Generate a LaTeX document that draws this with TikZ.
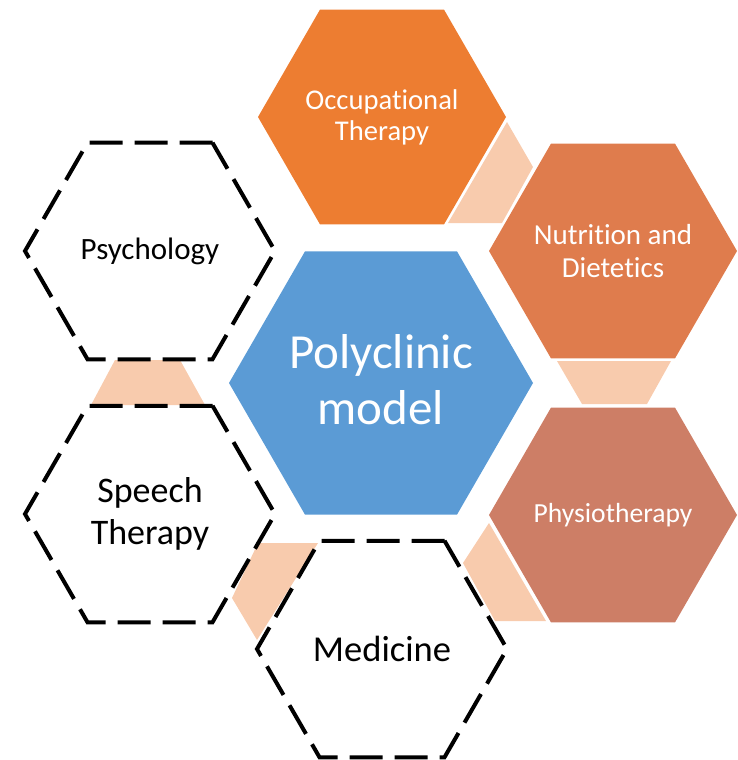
\documentclass[tikz,border=0pt]{standalone}
\usepackage{fontspec}
\setmainfont{Carlito}[Ligatures=NoCommon]
\usetikzlibrary{shapes.geometric, calc, backgrounds}
\definecolor{centreblue}{HTML}{5B9BD5}
\definecolor{otorange}{HTML}{ED7D31}
\definecolor{nutorange}{HTML}{DF7C4D}
\definecolor{phyorange}{HTML}{CD7E66}
\definecolor{peach}{HTML}{F8CBAD}
\tikzset {
    x=1pt, y=-1pt,
    hexa/.style={regular polygon, regular polygon sides=6, inner sep=0pt, outer sep=0pt},
    solidhex/.style={hexa, draw=none, minimum size=248pt},
    dashhex/.style={hexa, draw=black, line width=4pt, dash pattern=on 33pt off 12pt, minimum size=250pt},
    hextext/.style={inner sep=0pt, align=center},
    link/.style={fill=peach, draw=none}
}
\begin{document}
\begin{tikzpicture}
    \useasboundingbox (0,0) rectangle (738,760);
    \node[hexa, fill=centreblue, minimum size=304pt] (poly) at (381,383) {};
    \node[solidhex, fill=otorange] (ot) at (382,117) {};
    \node[solidhex, fill=nutorange] (nut) at (613,251) {};
    \node[solidhex, fill=phyorange] (phy) at (613,515) {};
    \node[dashhex] (med) at (382,649) {};
    \node[dashhex] (spe) at (150,514) {};
    \node[dashhex] (psy) at (150,251) {};

    \node[hextext, text=white, font=\fontsize{49}{56}\selectfont] (polytext) at ($(poly)+(0,-3)$) {Polyclinic\\model};
    \node[hextext, text=white, font=\fontsize{28.6}{31}\selectfont] (ottext) at (ot) {Occupational\\Therapy};
    \node[hextext, text=white, font=\fontsize{29}{33}\selectfont] (nuttext) at (nut) {Nutrition and\\Dietetics};
    \node[hextext, text=white, font=\fontsize{27.6}{33}\selectfont] (phytext) at (phy) {Physiotherapy};
    \node[hextext, font=\fontsize{36.5}{42}\selectfont] (medtext) at (med) {Medicine};
    \node[hextext, font=\fontsize{36}{42}\selectfont] (spetext) at (spe) {Speech\\Therapy};
    \node[hextext, font=\fontsize{31}{36}\selectfont] (psytext) at (psy) {Psychology};

    % links between neighbours
    \begin{scope}[on background layer]
        \fill[link] ($(ot)+(125,5)$) -- ($(ot)+(151,50)$) -- ($(nut)+(-111,-28)$) -- ($(ot)+(66,106)$) -- cycle;
        \fill[link] ($(nut)+(-56,110)$) -- ($(nut)+(58,110)$) -- ($(phy)+(34,-111)$) -- ($(phy)+(-31,-111)$) -- cycle;
        \fill[link] ($(phy)+(-124,8)$) -- ($(phy)+(-67,106)$) -- ($(med)+(113,-28)$) -- ($(med)+(81,-86)$) -- cycle;
        \fill[link] ($(spe)+(108,29)$) -- ($(med)+(-64,-106)$) -- ($(med)+(-125,-9)$) -- ($(spe)+(82,84)$) -- cycle;
        \fill[link] ($(psy)+(-35,109)$) -- ($(psy)+(30,109)$) -- ($(spe)+(55,-109)$) -- ($(spe)+(-59,-109)$) -- cycle;
    \end{scope}
\end{tikzpicture}
\end{document}
